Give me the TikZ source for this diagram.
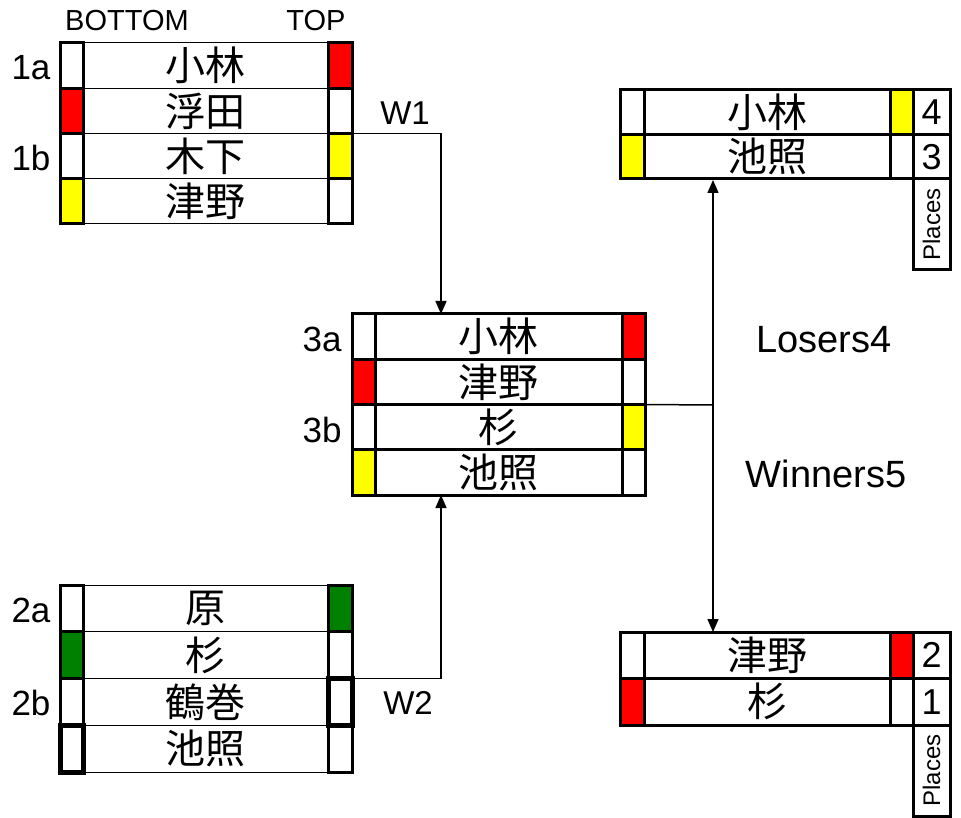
\documentclass[tikz,border=0pt]{standalone}
\usepackage{fontspec}
\setmainfont{Liberation Sans}
\newfontfamily\jp{Noto Sans CJK JP}
\usetikzlibrary{arrows.meta}
\definecolor{cred}{RGB}{255,0,0}
\definecolor{cyel}{RGB}{255,255,0}
\definecolor{cgrn}{RGB}{0,128,0}
\begin{document}
\begin{tikzpicture}[x=1pt,y=-1pt,
  box/.style={draw, inner sep=0pt, outer sep=0pt, anchor=north west},
  sidecell/.style={box, line width=3pt},
  heavycell/.style={box, line width=5pt},
  thinname/.style={box, line width=1pt, font=\jp\fontsize{40}{40}\selectfont},
  thickname/.style={box, line width=3pt, font=\jp\fontsize{40}{40}\selectfont},
  seedlbl/.style={anchor=east, font=\fontsize{35}{35}\selectfont},
  headlbl/.style={font=\fontsize{29}{29}\selectfont},
  wlbl/.style={font=\fontsize{33}{33}\selectfont},
  biglbl/.style={font=\fontsize{38}{38}\selectfont},
  placebox/.style={box, line width=3pt, font=\fontsize{36}{36}\selectfont},
  placetxt/.style={rotate=90, font=\fontsize{24}{24}\selectfont},
  conn/.style={line width=1.5pt, -{Triangle[length=13pt,width=11pt]}},
  conn2/.style={line width=1.5pt, {Triangle[length=13pt,width=11pt]}-{Triangle[length=13pt,width=11pt]}},
  plain/.style={line width=1.5pt}
]
\useasboundingbox (0,0) rectangle (961,818);

% ---------- Bracket 1 ----------
\foreach \i/\nm in {1/小林, 2/浮田, 3/木下, 4/津野} {
  \node[thinname, minimum width=245pt, minimum height=45.25pt] (b1n\i) at (83,{43+45.25*(\i-1)}) {\nm};
}
\foreach \i/\lc/\rc in {1/white/cred, 2/cred/white, 3/white/cyel, 4/cyel/white} {
  \node[sidecell, fill=\lc, minimum width=23pt, minimum height=45.25pt] (b1l\i) at (60,{43+45.25*(\i-1)}) {};
  \node[sidecell, fill=\rc, minimum width=24pt, minimum height=45.25pt] (b1r\i) at (328,{43+45.25*(\i-1)}) {};
}
\node[headlbl] (hbot) at (127,21) {BOTTOM};
\node[headlbl] (htop) at (316,21) {TOP};
\node[seedlbl] (s1a) at (54,68) {1a};
\node[seedlbl] (s1b) at (54,158) {1b};

% ---------- Bracket 2 ----------
\foreach \i/\nm in {1/原, 2/杉, 3/鶴巻, 4/池照} {
  \node[thinname, minimum width=245pt, minimum height=46.75pt] (b2n\i) at (83,{585+46.75*(\i-1)}) {\nm};
}
\node[sidecell, fill=white, minimum width=23pt, minimum height=46.75pt] (b2l1) at (60,585) {};
\node[sidecell, fill=cgrn, minimum width=23pt, minimum height=46.75pt] (b2l2) at (60,631.75) {};
\node[sidecell, fill=white, minimum width=23pt, minimum height=46.75pt] (b2l3) at (60,678.5) {};
\node[sidecell, fill=cgrn, minimum width=24pt, minimum height=46.75pt] (b2r1) at (328,585) {};
\node[sidecell, fill=white, minimum width=24pt, minimum height=46.75pt] (b2r2) at (328,631.75) {};
\node[sidecell, fill=white, minimum width=24pt, minimum height=46.75pt] (b2r4) at (328,725.25) {};
\node[heavycell, fill=white, minimum width=24pt, minimum height=46.75pt] (b2r3) at (328,678.5) {};
\node[heavycell, fill=white, minimum width=23pt, minimum height=46.75pt] (b2l4) at (60,725.25) {};
\node[seedlbl] (s2a) at (54,610) {2a};
\node[seedlbl] (s2b) at (54,703) {2b};

% ---------- Bracket 3 ----------
\foreach \i/\nm in {1/小林, 2/津野, 3/杉, 4/池照} {
  \node[thickname, minimum width=247pt, minimum height=45.25pt] (b3n\i) at (375,{314+45.25*(\i-1)}) {\nm};
}
\foreach \i/\lc/\rc in {1/white/cred, 2/cred/white, 3/white/cyel, 4/cyel/white} {
  \node[sidecell, fill=\lc, minimum width=23pt, minimum height=45.25pt] (b3l\i) at (352,{314+45.25*(\i-1)}) {};
  \node[sidecell, fill=\rc, minimum width=23pt, minimum height=45.25pt] (b3r\i) at (622,{314+45.25*(\i-1)}) {};
}
\node[seedlbl] (s3a) at (345,339) {3a};
\node[seedlbl] (s3b) at (345,430) {3b};

% ---------- Final top (places 4/3) ----------
\foreach \i/\nm/\lc/\rc/\pl in {1/小林/white/cyel/4, 2/池照/cyel/white/3} {
  \node[thickname, minimum width=246pt, minimum height=44.5pt] (ftn\i) at (644,{90+44.5*(\i-1)}) {\nm};
  \node[sidecell, fill=\lc, minimum width=24pt, minimum height=44.5pt] (ftl\i) at (620,{90+44.5*(\i-1)}) {};
  \node[sidecell, fill=\rc, minimum width=23pt, minimum height=44.5pt] (ftr\i) at (890,{90+44.5*(\i-1)}) {};
  \node[placebox, minimum width=37pt, minimum height=44.5pt] (ftp\i) at (913,{90+44.5*(\i-1)}) {\pl};
}
\node[placebox, minimum width=37pt, minimum height=91pt] (ftpl) at (913,179) {};
\node[placetxt] (ftplt) at (ftpl.center) {Places};

% ---------- Final bottom (places 2/1) ----------
\foreach \i/\nm/\lc/\rc/\pl in {1/津野/white/cred/2, 2/杉/cred/white/1} {
  \node[thickname, minimum width=246pt, minimum height=46.5pt] (fbn\i) at (644,{632+46.5*(\i-1)}) {\nm};
  \node[sidecell, fill=\lc, minimum width=24pt, minimum height=46.5pt] (fbl\i) at (620,{632+46.5*(\i-1)}) {};
  \node[sidecell, fill=\rc, minimum width=23pt, minimum height=46.5pt] (fbr\i) at (890,{632+46.5*(\i-1)}) {};
  \node[placebox, minimum width=37pt, minimum height=46.5pt] (fbp\i) at (913,{632+46.5*(\i-1)}) {\pl};
}
\node[placebox, minimum width=37pt, minimum height=91pt] (fbpl) at (913,725) {};
\node[placetxt] (fbplt) at (fbpl.center) {Places};

% ---------- Connectors ----------
\coordinate (w1end) at (441,314);
\coordinate (w2end) at (441,495);
\coordinate (jn) at (713,405);
\coordinate (ftin) at (713,180);
\coordinate (fbin) at (713,632);
\draw[conn] (b1r3.north east) -| (w1end);
\draw[conn] (b2r3.north east) -| (w2end);
\draw[plain] (b3r3.north east) -- (jn);
\draw[conn2] (ftin) -- (fbin);

\node[wlbl] (lw1) at (405,113) {W1};
\node[wlbl] (lw2) at (408,703) {W2};
\node[biglbl] (llos) at (824,340) {Losers4};
\node[biglbl] (lwin) at (826,474) {Winners5};
\end{tikzpicture}
\end{document}
